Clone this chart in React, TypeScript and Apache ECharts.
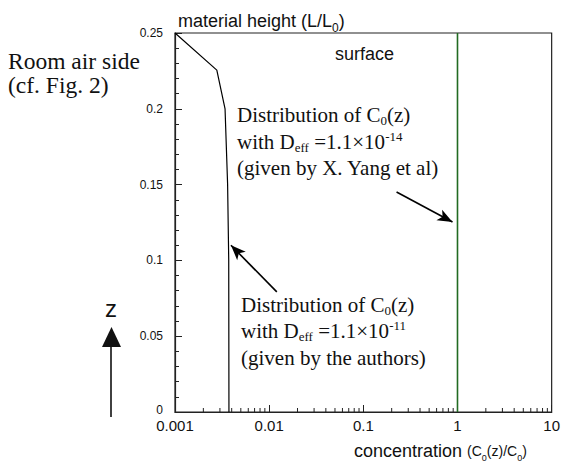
import React, { useEffect, useRef } from "react";
import * as echarts from "echarts";

// ---- data ----
const xMin = 0.001;
const xMax = 10;
const yMin = 0;
const yMax = 0.25;
const yInterval = 0.05;
// C0(z) profile given by the authors (D_eff = 1.1e-11)
const authorsConc = [0.001, 0.00278, 0.0034, 0.00362, 0.00372, 0.00374];
const authorsHeight = [0.25, 0.2255, 0.2, 0.15, 0.1, 0];
// C0(z) profile given by X. Yang et al (D_eff = 1.1e-14)
const yangConc = [1, 1];
const yangHeight = [0, 0.25];
// minor log ticks
const decadeStarts = [0.001, 0.01, 0.1, 1];
const minorMultipliers = [2, 3, 4, 5, 6, 7, 8, 9];
// annotation arrows (data coordinates: [concentration, height])
const arrowYangFrom = [0.2254, 0.1451];
const arrowYangTo = [0.885, 0.1253];
const arrowAuthorsFrom = [0.01205, 0.0792];
const arrowAuthorsTo = [0.00393, 0.11];

const minorTickValues = decadeStarts.flatMap((d) =>
  minorMultipliers.map((m) => [Number((d * m).toPrecision(3)), 0])
);

const serif = "Liberation Serif";
const sans = "Liberation Sans";

export default function App() {
  const ref = useRef<HTMLDivElement>(null);
  useEffect(() => {
    if (!ref.current) return;
    const chart = echarts.init(ref.current, undefined, { renderer: "svg" });

    const annRich = {
      t: { fontFamily: serif, fontSize: 21, lineHeight: 24, fill: "#111" },
      sub: { fontFamily: serif, fontSize: 13, lineHeight: 12, verticalAlign: "bottom", fill: "#111" },
      sup: { fontFamily: serif, fontSize: 13, lineHeight: 12, verticalAlign: "top", fill: "#111" },
    };

    const annLine = (x: number, y: number, text: string) => ({
      type: "text",
      x,
      y,
      silent: true,
      style: { text, rich: annRich, fill: "#111", verticalAlign: "middle", align: "left" },
    });

    const plainText = (x: number, y: number, text: string, family: string, size: number, align = "left") => ({
      type: "text",
      x,
      y,
      silent: true,
      style: { text, fontFamily: family, fontSize: size, fill: "#111", align, verticalAlign: "middle" },
    });

    const option: any = {
      animation: false,
      backgroundColor: "#fff",
      grid: {
        left: 175,
        top: 33,
        right: 9,
        bottom: 50,
        show: true,
        borderColor: "#222",
        borderWidth: 1.2,
        backgroundColor: "transparent",
      },
      xAxis: {
        type: "log",
        logBase: 10,
        min: xMin,
        max: xMax,
        axisLine: { show: true, onZero: false, lineStyle: { color: "#222", width: 1.2 } },
        axisTick: { show: true, inside: true, length: 7, lineStyle: { color: "#222" } },
        splitLine: { show: false },
        axisLabel: {
          margin: 6,
          fontFamily: sans,
          fontSize: 15,
          lineHeight: 15,
          color: "#111",
          formatter: (v: number) => String(Number(v.toPrecision(3))),
        },
      },
      yAxis: {
        type: "value",
        min: yMin,
        max: yMax,
        interval: yInterval,
        axisLine: { show: true, lineStyle: { color: "#222", width: 1.2 } },
        axisTick: { show: true, inside: true, length: 7, lineStyle: { color: "#222" } },
        minorTick: { show: true, splitNumber: 5, length: 4, lineStyle: { color: "#222" } },
        splitLine: { show: false },
        axisLabel: {
          margin: 12,
          fontFamily: sans,
          fontSize: 12,
          lineHeight: 11,
          color: "#111",
          formatter: (v: number) => (v === 0 ? "{z|0}" : String(Number(v.toFixed(2)))),
          rich: {
            z: { fontFamily: sans, fontSize: 12, lineHeight: 11, padding: [0, 0, 5, 0], color: "#111" },
          },
        },
      },
      series: [
        {
          type: "line",
          name: "authors",
          data: authorsConc.map((c, i) => [c, authorsHeight[i]]),
          showSymbol: false,
          symbol: "none",
          lineStyle: { color: "#000", width: 1.2 },
          silent: true,
          markLine: {
            silent: true,
            symbol: ["none", "arrow"],
            symbolSize: [9, 15],
            label: { show: false },
            lineStyle: { color: "#000", width: 1.6, type: "solid" },
            emphasis: { disabled: true },
            data: [
              [{ coord: arrowYangFrom }, { coord: arrowYangTo }],
              [{ coord: arrowAuthorsFrom }, { coord: arrowAuthorsTo }],
            ],
          },
        },
        {
          type: "line",
          name: "yang",
          data: yangConc.map((c, i) => [c, yangHeight[i]]),
          showSymbol: false,
          symbol: "none",
          lineStyle: { color: "#226b22", width: 1.6 },
          silent: true,
        },
        {
          type: "custom",
          name: "minorTicks",
          silent: true,
          data: minorTickValues,
          renderItem: (params: any, api: any) => {
            const p = api.coord([api.value(0), api.value(1)]);
            return {
              type: "line",
              shape: { x1: p[0], y1: p[1], x2: p[0], y2: p[1] - 4 },
              style: { stroke: "#222", lineWidth: 1 },
            };
          },
        },
      ],
      graphic: [
        {
          type: "text",
          x: 178,
          y: 20.5,
          silent: true,
          style: {
            text: "{m|material height (L/L}{s|0}{m|)}",
            verticalAlign: "middle",
            fill: "#111",
            rich: {
              m: { fontFamily: sans, fontSize: 18, lineHeight: 26, fill: "#111" },
              s: { fontFamily: sans, fontSize: 12, lineHeight: 10, verticalAlign: "bottom", fill: "#111" },
            },
          },
        },
        plainText(8, 60.5, "Room air side", serif, 23.5),
        plainText(8, 84.5, "(cf. Fig. 2)", serif, 23.5),
        plainText(335, 54, "surface", sans, 18),
        annLine(237, 115, "{t|Distribution of C}{sub|0}{t|(z)}"),
        annLine(237, 142, "{t|with D}{sub|eff}{t| =1.1×10}{sup|-14}"),
        annLine(237, 168, "{t|(given by X. Yang et al)}"),
        annLine(241, 305, "{t|Distribution of C}{sub|0}{t|(z)}"),
        annLine(241, 331, "{t|with D}{sub|eff}{t| =1.1×10}{sup|-11}"),
        annLine(241, 358, "{t|(given by the authors)}"),
        plainText(111, 308, "z", sans, 24, "center"),
        {
          type: "line",
          silent: true,
          shape: { x1: 111, y1: 417, x2: 111, y2: 345 },
          style: { stroke: "#111", lineWidth: 1.6 },
        },
        {
          type: "polygon",
          silent: true,
          shape: { points: [[102, 347], [121, 347], [111.5, 327]] },
          style: { fill: "#111" },
        },
        {
          type: "text",
          x: 354,
          y: 451,
          silent: true,
          style: {
            text: "{a|concentration }{b|(C}{s|0}{b|(z)/C}{s|0}{b|)}",
            verticalAlign: "middle",
            fill: "#111",
            rich: {
              a: { fontFamily: sans, fontSize: 18, lineHeight: 22, fill: "#111" },
              b: { fontFamily: sans, fontSize: 14, lineHeight: 22, fill: "#111" },
              s: { fontFamily: sans, fontSize: 9, lineHeight: 9, verticalAlign: "bottom", fill: "#111" },
            },
          },
        },
      ],
    };

    chart.setOption(option);
    return () => chart.dispose();
  }, []);

  return <div ref={ref} style={{ width: 563, height: 462, position: "absolute", left: 0, top: 0 }} />;
}
